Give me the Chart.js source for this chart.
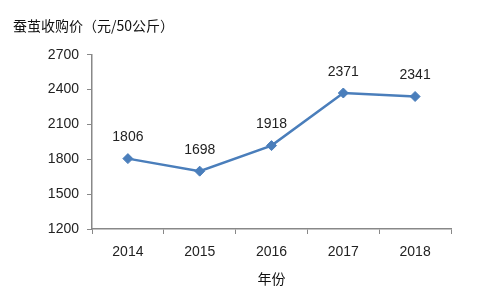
<!DOCTYPE html>
<html lang="zh">

<head>
    <meta charset="UTF-8">
    <title>蚕茧收购价</title>
    <script src="https://cdn.jsdelivr.net/npm/chart.js"></script>
    <style>
        body { margin: 0; background: #fff; }
    </style>
</head>

<body>
    <canvas id="priceChart" width="488" height="295"></canvas>

    <script>
        // chart data
        const years = ['2014', '2015', '2016', '2017', '2018'];
        const prices = [1806, 1698, 1918, 2371, 2341];
        const yTicks = [1200, 1500, 1800, 2100, 2400, 2700];

        const numFont = "'Liberation Sans', Arial, sans-serif";
        const cjkFont = "'Noto Sans CJK SC', sans-serif";

        // draws the value above each point
        const valueLabels = {
            id: 'valueLabels',
            afterDatasetsDraw(chart) {
                const ctx = chart.ctx;
                const meta = chart.getDatasetMeta(0);
                ctx.save();
                ctx.font = '14px ' + numFont;
                ctx.fillStyle = '#222';
                ctx.textAlign = 'center';
                ctx.textBaseline = 'middle';
                meta.data.forEach((pt, i) => {
                    ctx.fillText(String(prices[i]), pt.x, pt.y - 21);
                });
                ctx.restore();
            }
        };

        const ctx = document.getElementById('priceChart').getContext('2d');
        new Chart(ctx, {
            type: 'line',
            data: {
                labels: years,
                datasets: [{
                    data: prices,
                    borderColor: '#4a7ebb',
                    backgroundColor: '#4a7ebb',
                    borderWidth: 2.5,
                    pointStyle: 'rectRot',
                    pointRadius: 5,
                    pointBorderWidth: 1,
                    tension: 0
                }]
            },
            options: {
                responsive: false,
                animation: false,
                layout: {
                    padding: { left: 13, right: 37, top: 0, bottom: 0 }
                },
                plugins: {
                    legend: { display: false },
                    tooltip: { enabled: false },
                    title: {
                        display: true,
                        text: '蚕茧收购价（元/50公斤）',
                        align: 'start',
                        color: '#111',
                        font: { family: cjkFont, size: 14, weight: 'normal', lineHeight: 1.2 },
                        padding: { top: 17, bottom: 21 }
                    }
                },
                scales: {
                    x: {
                        offset: true,
                        afterFit: s => { s.height = 66; },
                        grid: {
                            offset: true,
                            drawOnChartArea: false,
                            drawTicks: true,
                            tickLength: 5,
                            color: '#888'
                        },
                        border: { color: '#888', width: 1.5 },
                        ticks: {
                            color: '#222',
                            padding: 10,
                            font: { family: numFont, size: 14 }
                        },
                        title: {
                            display: true,
                            text: '年份',
                            color: '#111',
                            font: { family: cjkFont, size: 14 },
                            padding: { top: 0, bottom: 8 }
                        }
                    },
                    y: {
                        min: 1200,
                        max: 2700,
                        afterFit: s => { s.width = 79; },
                        afterBuildTicks: s => { s.ticks = yTicks.map(v => ({ value: v })); },
                        grid: {
                            drawOnChartArea: false,
                            drawTicks: true,
                            tickLength: 5,
                            color: '#888'
                        },
                        border: { color: '#888', width: 1.5 },
                        ticks: {
                            color: '#222',
                            padding: 8,
                            font: { family: numFont, size: 14 },
                            callback: v => String(v)
                        }
                    }
                }
            },
            plugins: [valueLabels]
        });
    </script>
</body>

</html>
